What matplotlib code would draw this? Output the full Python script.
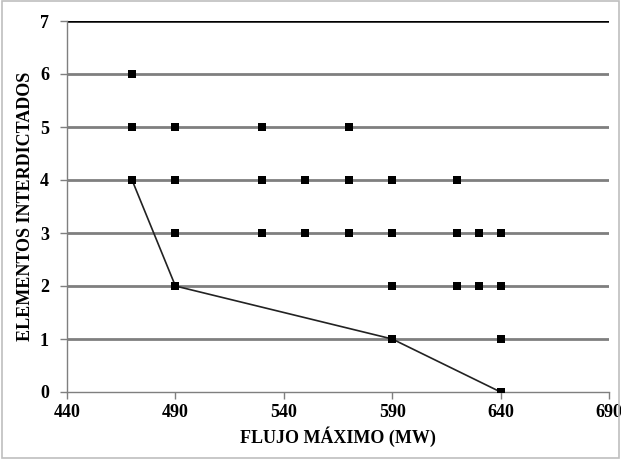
import matplotlib
matplotlib.use('Agg')
import matplotlib.pyplot as plt
from matplotlib.patches import Rectangle

# scatter points: flujo maximo (MW) vs elementos interdictados
flujo = [470,
         470, 490, 530, 570,
         470, 490, 530, 550, 570, 590, 620,
         490, 530, 550, 570, 590, 620, 630, 640,
         490, 590, 620, 630, 640,
         590, 640,
         640]
elementos = [6,
             5, 5, 5, 5,
             4, 4, 4, 4, 4, 4, 4,
             3, 3, 3, 3, 3, 3, 3, 3,
             2, 2, 2, 2, 2,
             1, 1,
             0]

# frontier line
front_x = [470, 490, 590, 640]
front_y = [4, 2, 1, 0]

x_ticks = [440, 490, 540, 590, 640, 690]
y_ticks = [0, 1, 2, 3, 4, 5, 6, 7]

plt.rcParams['font.family'] = ['Liberation Serif', 'DejaVu Serif']
plt.rcParams['font.weight'] = 'bold'

fig = plt.figure(figsize=(6.21, 4.59), dpi=100)
ax = fig.add_axes([67/621, 1 - 392/459, (609-67)/621, (392-21)/459])

for yv in y_ticks[1:]:
    ax.axhline(yv, color='black' if yv == 7 else '#7f7f7f', lw=1.8 if yv == 7 else 2.0, zorder=1)

ax.plot(front_x, front_y, color='#222222', lw=1.2, zorder=2)
ax.scatter(flujo, elementos, marker='s', s=38, color='black', zorder=3, linewidths=0)

ax.set_xlim(440, 690)
ax.set_ylim(0, 7)
ax.set_xticks(x_ticks)
ax.set_yticks(y_ticks)
ax.tick_params(axis='both', which='major', direction='out', length=5, width=1,
               color='#7f7f7f', labelsize=13)
ax.tick_params(axis='y', pad=8)
for s in ['top', 'right']:
    ax.spines[s].set_visible(False)
for s in ['left', 'bottom']:
    ax.spines[s].set_color('#7f7f7f')
    ax.spines[s].set_linewidth(1)

ax.set_xlabel('FLUJO MÁXIMO (MW)', fontsize=13, fontweight='bold', labelpad=4)
ax.set_ylabel('ELEMENTOS INTERDICTADOS', fontsize=13, fontweight='bold', labelpad=4)

fig.patches.append(Rectangle((0.003, 0.003), 0.994, 0.994, transform=fig.transFigure,
                             fill=False, edgecolor='#bfbfbf', lw=1.2))

fig.savefig('out.png', dpi=100)
